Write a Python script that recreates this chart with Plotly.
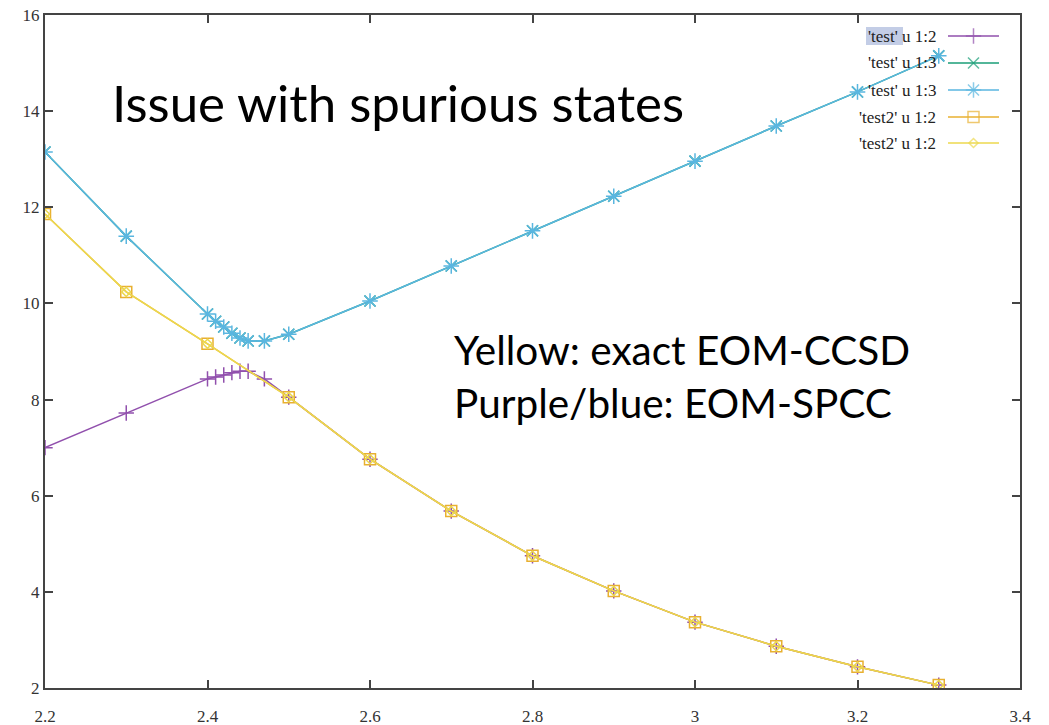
import plotly.graph_objects as go

# ---------------- data ----------------
x_purple = [2.2, 2.3, 2.4, 2.41, 2.42, 2.43, 2.44, 2.45, 2.47, 2.5, 2.6, 2.7, 2.8, 2.9, 3.0, 3.1, 3.2, 3.3]
y_purple = [7.0, 7.72, 8.43, 8.47, 8.51, 8.56, 8.59, 8.59, 8.43, 8.05, 6.76, 5.68, 4.75, 4.02, 3.37, 2.87, 2.44, 2.06]

x_blue = [2.2, 2.3, 2.4, 2.41, 2.42, 2.43, 2.44, 2.45, 2.47, 2.5, 2.6, 2.7, 2.8, 2.9, 3.0, 3.1, 3.2, 3.3]
y_blue = [13.15, 11.4, 9.78, 9.63, 9.51, 9.38, 9.28, 9.22, 9.22, 9.36, 10.05, 10.78, 11.51, 12.23, 12.96, 13.69, 14.4, 15.15]

x_yellow = [2.2, 2.3, 2.4, 2.5, 2.6, 2.7, 2.8, 2.9, 3.0, 3.1, 3.2, 3.3]
y_yellow = [11.86, 10.24, 9.16, 8.05, 6.76, 5.68, 4.75, 4.02, 3.37, 2.87, 2.44, 2.06]

legend_labels = ["'test' u 1:2", "'test' u 1:3", "'test' u 1:3", "'test2' u 1:2", "'test2' u 1:2"]

x_tickvals = [2.2, 2.4, 2.6, 2.8, 3.0, 3.2, 3.4]
x_ticktext = ["2.2", "2.4", "2.6", "2.8", "3", "3.2", "3.4"]
y_tickvals = [2, 4, 6, 8, 10, 12, 14, 16]
y_ticktext = ["2", "4", "6", "8", "10", "12", "14", "16"]

# ---------------- styles ----------------
PURPLE = "#9150ad"
GREEN = "#1a9e77"
BLUE = "#5ab6e0"
ORANGE = "#e8b030"
YELLOW = "#ecd84e"
AXIS = "#444444"

styles = [
    dict(color=PURPLE, symbol="cross-thin-open", size=11),
    dict(color=GREEN, symbol="x-thin-open", size=11),
    dict(color=BLUE, symbol="asterisk-open", size=13),
    dict(color=ORANGE, symbol="square-open", size=11),
    dict(color=YELLOW, symbol="diamond-open", size=7),
]
series = [
    (x_purple, y_purple),
    (x_blue, y_blue),
    (x_blue, y_blue),
    (x_yellow, y_yellow),
    (x_yellow, y_yellow),
]

fig = go.Figure()
for (xs, ys), st in zip(series, styles):
    fig.add_trace(go.Scatter(
        x=xs, y=ys, mode="lines+markers",
        line=dict(color=st["color"], width=1.5),
        marker=dict(symbol=st["symbol"], size=st["size"], color=st["color"],
                    line=dict(color=st["color"], width=1.5)),
        showlegend=False, hoverinfo="skip"))

# ---------------- custom gnuplot-style legend (text left, sample right) ----------------
W, H = 1049, 725
L, R, T, B = 45, 29, 15, 37
pw, ph = W - L - R, H - T - B

def px_x(px):
    return (px - L) / pw

def px_y(py):
    return (H - B - py) / ph

row_y = [36, 63, 90, 117, 143]
text_right = 938
line_x0, line_x1 = 948, 999

# highlight behind first legend label's 'test'
fig.add_shape(type="rect", xref="paper", yref="paper",
              x0=px_x(866), x1=px_x(903), y0=px_y(45), y1=px_y(27),
              fillcolor="#c3cde6", line=dict(width=0), layer="below")

for lab, ry, st in zip(legend_labels, row_y, styles):
    fig.add_annotation(xref="paper", yref="paper", x=px_x(text_right), y=px_y(ry),
                       xanchor="right", yanchor="middle", text=lab, showarrow=False,
                       font=dict(family="Liberation Serif", size=17, color="#222222"))
    fig.add_shape(type="line", xref="paper", yref="paper",
                  x0=px_x(line_x0), x1=px_x(line_x1), y0=px_y(ry), y1=px_y(ry),
                  line=dict(color=st["color"], width=1.5))

# legend markers on an overlay axis that maps to the plot's pixel box
fig.add_trace(go.Scatter(
    x=[(line_x0 + line_x1) / 2] * len(row_y), y=row_y, mode="markers",
    xaxis="x2", yaxis="y2",
    marker=dict(symbol=[s["symbol"] for s in styles], size=[s["size"] for s in styles],
                color=[s["color"] for s in styles],
                line=dict(color=[s["color"] for s in styles], width=1.5)),
    showlegend=False, hoverinfo="skip"))

# ---------------- text annotations ----------------
fig.add_annotation(xref="paper", yref="paper", x=px_x(110), y=px_y(103),
                   xanchor="left", yanchor="middle", text="Issue with spurious states",
                   showarrow=False, font=dict(family="Lato", size=51, color="black"))
fig.add_annotation(xref="paper", yref="paper", x=px_x(452), y=px_y(349),
                   xanchor="left", yanchor="middle", text="Yellow: exact EOM-CCSD",
                   showarrow=False, font=dict(family="Lato", size=40.5, color="black"))
fig.add_annotation(xref="paper", yref="paper", x=px_x(452), y=px_y(403),
                   xanchor="left", yanchor="middle", text="Purple/blue: EOM-SPCC",
                   showarrow=False, font=dict(family="Lato", size=40.5, color="black"))

axis_common = dict(showgrid=False, zeroline=False, showline=True, linecolor=AXIS, linewidth=2,
                   mirror="ticks", ticks="inside", ticklen=8, tickwidth=1.5, tickcolor=AXIS,
                   automargin=False,
                   tickfont=dict(family="Liberation Serif", size=17, color="#333333"))

fig.update_layout(
    width=W, height=H,
    margin=dict(l=L, r=R, t=T, b=B),
    plot_bgcolor="white", paper_bgcolor="white",
    xaxis=dict(range=[2.2, 3.4], tickvals=x_tickvals, ticktext=x_ticktext,
               ticklabelstandoff=12, **axis_common),
    yaxis=dict(range=[2, 16], tickvals=y_tickvals, ticktext=y_ticktext, **axis_common),
    xaxis2=dict(overlaying="x", range=[L, W - R], visible=False, fixedrange=True),
    yaxis2=dict(overlaying="y", range=[H - B, T], visible=False, fixedrange=True),
)

fig.write_html("out.html")
